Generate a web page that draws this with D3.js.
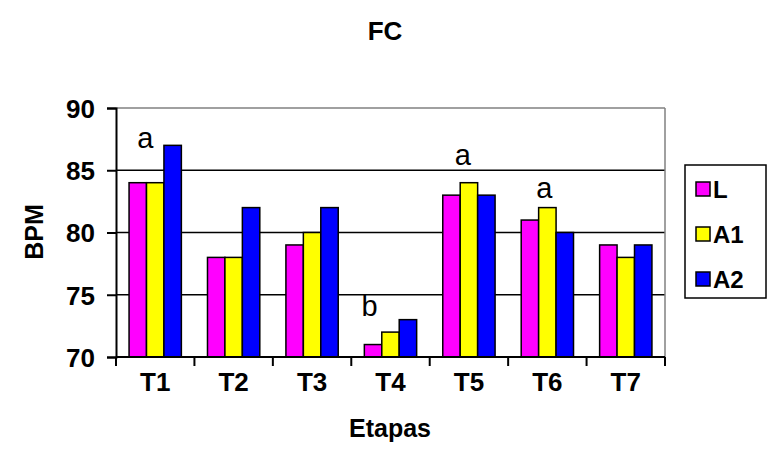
<!DOCTYPE html>
<html><head><meta charset="utf-8">
<script src="https://cdn.jsdelivr.net/npm/d3@7/dist/d3.min.js"></script>
<style>body{margin:0;background:#fff}svg{display:block}text{font-family:"Liberation Sans",Arial,sans-serif}</style>
</head><body><svg id="c" width="768" height="473"></svg>
<script>
const categories = ["T1","T2","T3","T4","T5","T6","T7"];
const seriesNames = ["L","A1","A2"];
const seriesColors = ["#ff00ff","#ffff00","#0000ff"];
const valuesL  = [84,78,79,71,83,81,79];
const valuesA1 = [84,78,80,72,84,82,78];
const valuesA2 = [87,82,82,73,83,80,79];
const yTicks = [70,75,80,85,90];
const annotCats = ["T1","T4","T5","T6"];
const annotText = ["a","b","a","a"];
const annotY = [86.8,73.3,85.4,82.8];
const annotDx = [-10,-21,-6,-3];

const series = [valuesL, valuesA1, valuesA2];
const svg = d3.select("#c");
const FONT = "'Liberation Sans',Arial,sans-serif";
const L=116, R=665, T=108, B=357;
const x = d3.scaleBand().domain(categories).range([L,R]).paddingInner(0).paddingOuter(0);
const y = d3.scaleLinear().domain([70,90]).range([B,T]);
const groupW = x.bandwidth()*0.667;
const x1 = d3.scaleBand().domain(seriesNames).range([0,groupW]);

// grid
svg.append("g").selectAll("line").data(yTicks.filter(d=>d>70)).join("line")
  .attr("x1",L).attr("x2",R).attr("y1",d=>y(d)).attr("y2",d=>y(d))
  .attr("stroke",d=>d===90?"#808080":"#000").attr("stroke-width",1.5);
svg.append("line").attr("x1",R).attr("x2",R).attr("y1",T).attr("y2",B).attr("stroke","#808080").attr("stroke-width",1.5);

// bars
categories.forEach((c,i)=>{
  const g0 = x(c) + (x.bandwidth()-groupW)/2;
  series.forEach((s,j)=>{
    svg.append("rect").attr("x",g0+x1(seriesNames[j])).attr("y",y(s[i]))
      .attr("width",x1.bandwidth()).attr("height",B-y(s[i]))
      .attr("fill",seriesColors[j]).attr("stroke","#000").attr("stroke-width",1.5);
  });
});

// axes
const ya = svg.append("g").attr("transform",`translate(${L},0)`)
  .call(d3.axisLeft(y).tickValues(yTicks).tickSize(9).tickPadding(12));
ya.select(".domain").attr("stroke","#000").attr("stroke-width",2);
ya.selectAll(".tick line").attr("stroke","#000").attr("stroke-width",2);
ya.selectAll("text").attr("font-size",26).attr("font-weight","bold").attr("fill","#000")
  .attr("dy","0.36em").style("font-family",FONT);

const xa = svg.append("g").attr("transform",`translate(0,${B})`)
  .call(d3.axisBottom(x).tickSize(0).tickPadding(16));
xa.select(".domain").attr("stroke","#000").attr("stroke-width",2).attr("d",`M${L},0H${R}`);
xa.selectAll("text").attr("font-size",26).attr("font-weight","bold").attr("fill","#000")
  .style("font-family",FONT);
svg.append("g").selectAll("line").data(d3.range(categories.length+1)).join("line")
  .attr("x1",i=>L+i*x.bandwidth()).attr("x2",i=>L+i*x.bandwidth())
  .attr("y1",B).attr("y2",B+9).attr("stroke","#000").attr("stroke-width",2);

// annotations
annotCats.forEach((c,i)=>{
  svg.append("text").attr("x",x(c)+x.bandwidth()/2+annotDx[i]).attr("y",y(annotY[i]))
    .attr("text-anchor","middle").attr("font-size",29).text(annotText[i]);
});

// titles
svg.append("text").attr("x",385).attr("y",40).attr("text-anchor","middle")
  .attr("font-size",26).attr("font-weight","bold").text("FC");
svg.append("text").attr("x",390).attr("y",437).attr("text-anchor","middle")
  .attr("font-size",25).attr("font-weight","bold").text("Etapas");
svg.append("text").attr("transform","translate(43,232) rotate(-90)").attr("text-anchor","middle")
  .attr("font-size",25).attr("font-weight","bold").text("BPM");

// legend
const lg = svg.append("g");
lg.append("rect").attr("x",685).attr("y",165).attr("width",81).attr("height",133)
  .attr("fill","#fff").attr("stroke","#000").attr("stroke-width",1.5);
seriesNames.forEach((n,j)=>{
  const cy = 189 + j*45;
  lg.append("rect").attr("x",696).attr("y",cy-7).attr("width",14).attr("height",14)
    .attr("fill",seriesColors[j]).attr("stroke","#000").attr("stroke-width",1.5);
  lg.append("text").attr("x",713).attr("y",cy+9).attr("font-size",24).attr("font-weight","bold").text(n);
});
</script></body></html>
